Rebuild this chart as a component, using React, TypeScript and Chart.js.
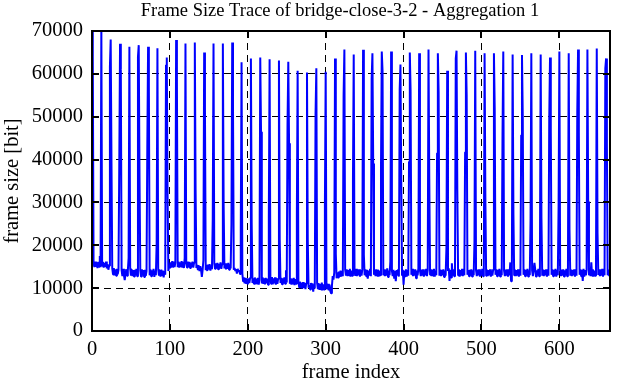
import { useEffect, useRef } from "react";
import { Chart, registerables } from "chart.js";

Chart.register(...registerables);

// Frame sizes [bit], one row per GOP of 12 frames (I-frame first)
const framesA = [
  70500, 64000, 15900, 14900, 16200, 15000, 16000, 14700, 16100, 15000, 17500, 14900,
  71000, 15200, 16100, 14800, 15900, 15000, 16200, 14600, 15600, 14300, 15200, 61700,
  68000, 39500, 14600, 13200, 14700, 13000, 14400, 12900, 14500, 13200, 14300, 38400,
  67000, 61100, 14200, 12800, 14500, 13000, 11900, 13300, 14400, 12900, 14100, 17000,
  66300, 14600, 12900, 14400, 12800, 14200, 12700, 14300, 13000, 14500, 12800, 64000,
  66700, 35900, 14100, 12700, 14400, 13000, 14200, 12600, 14300, 12900, 14000, 42600,
  66300, 57400, 13000, 14400, 12800, 14200, 13100, 14500, 12600, 14100, 13000, 20500,
  66000, 14400, 12900, 14200, 12700, 14300, 13000, 14100, 12500, 14000, 13100, 62000,
  63800, 32400, 14000, 15100, 14600, 16000, 14800, 16300, 15000, 16200, 14900, 15900,
];
const framesB = [
  67900, 58200, 14900, 16200, 14800, 16000, 14900, 16300, 14800, 16100, 14700, 17000,
  67100, 15800, 14800, 16200, 14900, 16100, 14700, 16000, 15000, 16200, 14800, 15900,
  67300, 32900, 14700, 15400, 14200, 15300, 14000, 15100, 14300, 12600, 14200, 16500,
  65000, 52200, 14200, 15400, 14000, 15500, 14300, 15600, 14100, 15300, 14400, 25900,
  67100, 15700, 14500, 15800, 14600, 15900, 14400, 15700, 14700, 16000, 14500, 15600,
  67100, 29400, 14600, 15800, 14400, 15700, 14500, 15900, 14300, 15600, 14600, 24800,
  67300, 52600, 14300, 14700, 14000, 14400, 13400, 14500, 13800, 14200, 13300, 24000,
  62700, 13400, 11600, 12500, 11100, 12400, 11000, 12300, 10900, 12200, 11200, 12400,
  63600, 25200, 11200, 12300, 11000, 12500, 10900, 12200, 11100, 12400, 10800, 12000,
];
const framesC = [
  63800, 46500, 11100, 12500, 11000, 12300, 10900, 12400, 11100, 12200, 10800, 26700,
  63400, 12300, 11000, 12600, 10900, 12300, 11100, 12500, 10800, 12300, 11000, 12200,
  63100, 21300, 11200, 12400, 10900, 12300, 11100, 12500, 11000, 14200, 11300, 48100,
  62800, 43800, 11000, 12300, 10800, 12200, 10900, 12400, 10700, 12100, 11000, 27500,
  60700, 11700, 10200, 11500, 10000, 11300, 9900, 11400, 10100, 11200, 9800, 11100,
  60300, 21300, 10100, 10700, 9700, 11200, 9800, 11100, 9200, 10900, 9900, 50800,
  61300, 11200, 9800, 11100, 9600, 11000, 9700, 11300, 9500, 10900, 9700, 29400,
  60500, 11100, 9700, 11000, 9500, 10800, 9300, 8800, 10500, 12800, 12000, 13600,
  63600, 18000, 12300, 13700, 12500, 13900, 12600, 14100, 12700, 14000, 12800, 55000,
];
const framesD = [
  65700, 14300, 12900, 14400, 12800, 14200, 13000, 14500, 12700, 14100, 12900, 34900,
  64500, 14000, 12900, 14500, 12800, 14300, 13000, 14400, 12700, 14200, 12900, 14300,
  65600, 17800, 13000, 14400, 12800, 14300, 12200, 14100, 12900, 14500, 12800, 58800,
  64800, 39100, 13100, 14300, 12800, 14400, 12900, 14300, 12700, 14100, 13000, 38000,
  65200, 60700, 13000, 14400, 12800, 14200, 12900, 14600, 12600, 14100, 13000, 16200,
  65200, 14100, 12800, 14300, 12200, 14000, 11600, 14200, 12900, 14400, 12700, 56400,
  62200, 35300, 13000, 14300, 10800, 14100, 12800, 14400, 12700, 14200, 12900, 39500,
  65000, 56200, 13100, 14500, 12800, 14300, 12900, 14400, 12300, 14100, 13000, 14600,
  64800, 14200, 12800, 14300, 12900, 14400, 12700, 14100, 13000, 14500, 12800, 14200,
];
const framesE = [
  65700, 35400, 13100, 14400, 12800, 14300, 12900, 14500, 12700, 14100, 13000, 41500,
  64800, 55800, 12900, 14300, 12800, 14200, 13000, 14400, 12600, 14100, 12900, 19300,
  60700, 14000, 14600, 11700, 14300, 12500, 15800, 12900, 14400, 12800, 14100, 63600,
  65400, 32800, 13000, 14400, 12700, 14200, 12900, 14500, 12800, 14100, 13000, 41700,
  65000, 55100, 13100, 14200, 12800, 14300, 12900, 14400, 12700, 14200, 13000, 20700,
  65400, 14200, 12800, 14300, 13000, 14400, 12700, 14100, 12900, 14500, 12800, 14000,
  64800, 31100, 12900, 14300, 12800, 14200, 13000, 14400, 12700, 14100, 12900, 14300,
  64800, 51800, 13100, 14400, 12800, 14300, 12900, 14500, 12700, 14200, 13000, 45700,
  65200, 14100, 12800, 14300, 12900, 14400, 12700, 14200, 13000, 16000, 11600, 14000,
];
const framesF = [
  64500, 27500, 13000, 14300, 12800, 14200, 12900, 14400, 12700, 14100, 12900, 45700,
  64400, 50000, 13100, 14400, 12800, 14300, 12900, 14500, 12700, 14200, 13000, 25900,
  64800, 14100, 12800, 14300, 15900, 14400, 12700, 14200, 13000, 14500, 12800, 14000,
  64500, 26300, 12900, 14300, 12800, 14200, 13000, 14400, 12700, 14100, 12900, 49600,
  63800, 46900, 13100, 14400, 12800, 14300, 12900, 14500, 12700, 14200, 13000, 29000,
  65200, 14100, 12800, 14300, 12900, 14400, 12700, 14200, 13000, 14500, 12800, 14000,
  64800, 23600, 12900, 14300, 12800, 14200, 13000, 14400, 12700, 14100, 12900, 51200,
  65700, 46400, 13100, 14400, 12800, 14300, 11700, 14500, 12700, 14200, 13000, 14300,
  65700, 30200, 13000, 14300, 12800, 16000, 12900, 14400, 12700, 14100, 12900, 14200,
  65900, 22800, 13100, 14400, 12800, 14300, 12900, 14500, 12700, 14200, 13000, 61300,
  63600, 43800, 13000, 14300, 12800, 14200,
];

const xTicks = [0, 100, 200, 300, 400, 500, 600];
const yTicks = [0, 10000, 20000, 30000, 40000, 50000, 60000, 70000];
const X_MAX = 665;
const Y_MAX = 70000;
const TITLE = "Frame Size Trace of bridge-close-3-2 - Aggregation 1";
const X_LABEL = "frame index";
const Y_LABEL = "frame size [bit]";

const FONT = "'Liberation Serif', 'Times New Roman', serif";

const framePlugin = {
  id: "gnuFrame",
  afterDraw(chart: any) {
    const { ctx, chartArea, scales } = chart;
    const { left, right, top, bottom } = chartArea;
    const x = scales.x;
    const y = scales.y;
    ctx.save();
    ctx.setLineDash([]);
    ctx.strokeStyle = "#000";
    ctx.lineWidth = 2;
    const tl = 7;
    ctx.beginPath();
    xTicks.forEach((v) => {
      const px = Math.round(x.getPixelForValue(v));
      ctx.moveTo(px, bottom);
      ctx.lineTo(px, bottom - tl);
      ctx.moveTo(px, top);
      ctx.lineTo(px, top + tl);
    });
    yTicks.forEach((v) => {
      const py = Math.round(y.getPixelForValue(v));
      ctx.moveTo(left, py);
      ctx.lineTo(left + tl, py);
      ctx.moveTo(right, py);
      ctx.lineTo(right - tl, py);
    });
    ctx.stroke();
    ctx.strokeRect(left, top, right - left, bottom - top);
    // title
    ctx.fillStyle = "#000";
    ctx.font = `18.5px ${FONT}`;
    ctx.textAlign = "center";
    ctx.textBaseline = "middle";
    ctx.fillText(TITLE, (left + right) / 2 - 11, top - 20);
    ctx.restore();
  },
};

export default function App() {
  const ref = useRef<HTMLCanvasElement>(null);
  useEffect(() => {
    const frames = [...framesA, ...framesB, ...framesC, ...framesD, ...framesE, ...framesF];
    const chart = new Chart(ref.current as HTMLCanvasElement, {
      type: "line",
      data: {
        datasets: [
          {
            data: frames.map((v, i) => ({ x: i, y: v })),
            borderColor: "#0000ff",
            borderWidth: 2,
            pointRadius: 0,
            tension: 0,
            fill: false,
            borderJoinStyle: "bevel",
            clip: 0,
          } as any,
        ],
      },
      options: {
        animation: false,
        responsive: false,
        maintainAspectRatio: false,
        devicePixelRatio: 1,
        layout: { padding: { left: 0, right: 7, top: 31, bottom: 0 } },
        plugins: {
          legend: { display: false },
          tooltip: { enabled: false },
          title: { display: false },
        },
        scales: {
          x: {
            type: "linear",
            min: 0,
            max: X_MAX,
            afterBuildTicks: (s: any) => {
              s.ticks = xTicks.map((v) => ({ value: v }));
            },
            afterFit: (s: any) => {
              s.height = 51;
            },
            ticks: {
              color: "#000",
              font: { family: FONT, size: 20.5 },
              padding: 6,
              maxRotation: 0,
              autoSkip: false,
              callback: (v: any) => String(v),
            },
            grid: { color: "#000", lineWidth: 1, drawTicks: false },
            border: { display: false, dash: [7, 5] },
            title: {
              display: true,
              text: X_LABEL,
              color: "#000",
              font: { family: FONT, size: 20.5, lineHeight: 0.9 },
              padding: { top: 0, bottom: 0 },
            },
          },
          y: {
            type: "linear",
            min: 0,
            max: Y_MAX,
            afterBuildTicks: (s: any) => {
              s.ticks = yTicks.map((v) => ({ value: v }));
            },
            afterFit: (s: any) => {
              s.width = 92;
            },
            ticks: {
              color: "#000",
              font: { family: FONT, size: 20.5 },
              padding: 9,
              autoSkip: false,
              callback: (v: any) => String(v),
            },
            grid: { color: "#000", lineWidth: 1, drawTicks: false },
            border: { display: false, dash: [7, 5] },
            title: {
              display: true,
              text: Y_LABEL,
              color: "#000",
              font: { family: FONT, size: 20.5 },
              padding: { top: 0, bottom: 0 },
            },
          },
        },
      } as any,
      plugins: [framePlugin],
    });
    return () => chart.destroy();
  }, []);
  return (
    <div style={{ position: "fixed", left: 0, top: 0, width: 617, height: 382, background: "#fff" }}>
      <canvas ref={ref} width={617} height={382} style={{ display: "block" }} />
    </div>
  );
}
